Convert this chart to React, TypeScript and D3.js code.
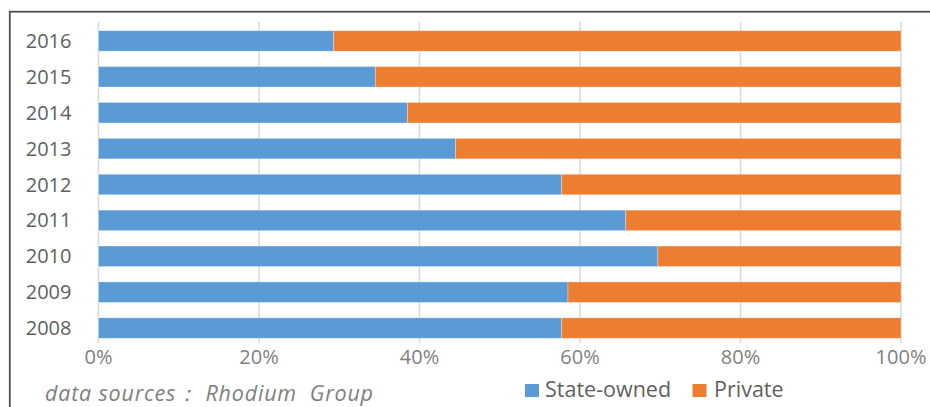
import React from "react";
import * as d3 from "d3";

const years = ["2016", "2015", "2014", "2013", "2012", "2011", "2010", "2009", "2008"];
const stateOwned = [29.3, 34.5, 38.5, 44.5, 57.7, 65.7, 69.7, 58.5, 57.7];
const privateShare = stateOwned.map((v) => 100 - v);
const seriesNames = ["State-owned", "Private"];
const seriesColors = ["#5B9BD5", "#ED7D31"];
const xTicks = [0, 20, 40, 60, 80, 100];
const footnote = "data sources： Rhodium  Group";

const W = 930;
const H = 407;
const FONT = "'Open Sans', 'Noto Sans', sans-serif";

export default function App() {
  const x = d3.scaleLinear().domain([0, 100]).range([98.5, 901]);
  const y = d3
    .scaleBand<string>()
    .domain(years)
    .range([23, 346])
    .paddingInner(0.43)
    .paddingOuter(0.215);

  const stack = d3
    .stack<any>()
    .keys(["s", "p"])(years.map((yr, i) => ({ yr, s: stateOwned[i], p: privateShare[i] })));

  const gridTop = 22;
  const gridBottom = 343;

  return (
    <div style={{ position: "absolute", left: 0, top: 0, width: W, height: H, background: "#fff" }}>
      <svg width={W} height={H} style={{ display: "block", fontFamily: FONT }}>
        <rect x={0} y={0} width={W} height={H} fill="#fff" />
        {/* outer frame */}
        <rect x={9.8} y={11.7} width={W + 20} height={H + 20} fill="none" stroke="#505050" strokeWidth={1.8} />
        {/* gridlines */}
        {xTicks.map((t) => (
          <line
            key={"g" + t}
            x1={x(t)}
            x2={x(t)}
            y1={gridTop}
            y2={gridBottom}
            stroke="#d9d9d9"
            strokeWidth={1.5}
          />
        ))}
        {/* bars */}
        {stack.map((layer, si) => (
          <g key={"s" + si} fill={seriesColors[si]}>
            {layer.map((d, i) => (
              <rect
                key={years[i]}
                x={x(d[0])}
                y={y(years[i])!}
                width={x(d[1]) - x(d[0])}
                height={y.bandwidth()}
                stroke="#ffffff"
                strokeOpacity={0.35}
                strokeWidth={0.8}
              />
            ))}
          </g>
        ))}
        {/* y labels */}
        {years.map((yr) => (
          <text
            key={"yl" + yr}
            x={71.5}
            y={y(yr)! + y.bandwidth() / 2 + 7}
            textAnchor="end"
            fontSize={20}
            fill="#5f5f5f"
          >
            {yr}
          </text>
        ))}
        {/* x tick labels */}
        {xTicks.map((t) => (
          <text key={"xl" + t} x={x(t)} y={364} textAnchor="middle" fontSize={20} fill="#7f7f7f">
            {t + "%"}
          </text>
        ))}
        {/* legend */}
        <rect x={525} y={384} width={14} height={13} fill={seriesColors[0]} />
        <text x={545} y={397} fontSize={21.5} fill="#5f5f5f">
          {seriesNames[0]}
        </text>
        <rect x={692.5} y={384} width={14} height={13} fill={seriesColors[1]} />
        <text x={714} y={397} fontSize={21.5} fill="#5f5f5f">
          {seriesNames[1]}
        </text>
        {/* footnote */}
        <text
          x={45}
          y={401}
          fontSize={21.5}
          fontStyle="italic"
          fill="#7f7f7f"
          textLength={328}
          lengthAdjust="spacing"
          style={{ whiteSpace: "pre" }}
        >
          {footnote}
        </text>
      </svg>
    </div>
  );
}
